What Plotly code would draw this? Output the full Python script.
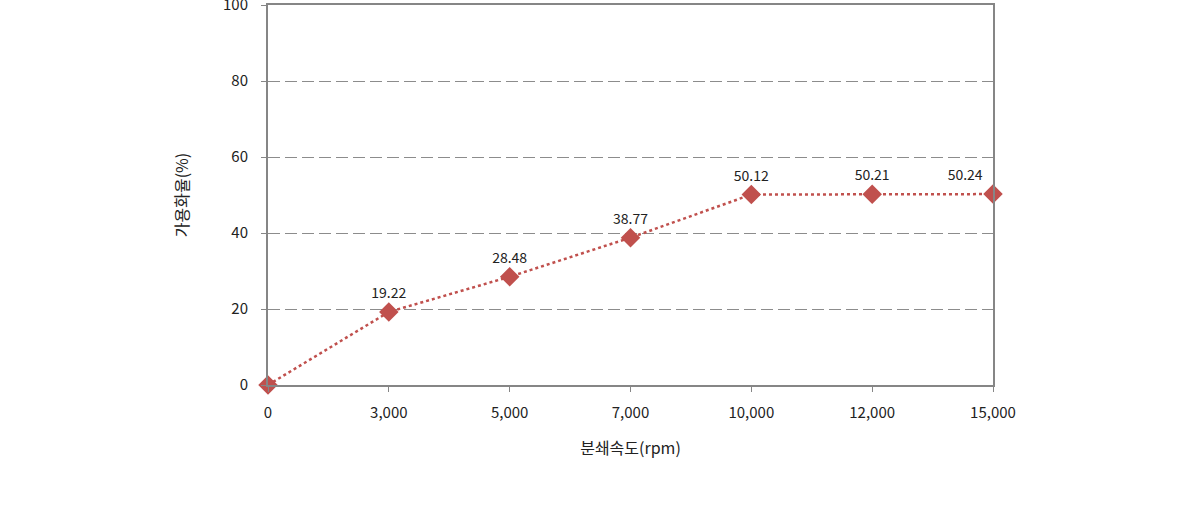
import plotly.graph_objects as go

categories = ["0", "3,000", "5,000", "7,000", "10,000", "12,000", "15,000"]
values = [0, 19.22, 28.48, 38.77, 50.12, 50.21, 50.24]
labels = ["", "19.22", "28.48", "38.77", "50.12", "50.21", "50.24"]
y_ticks = [0, 20, 40, 60, 80, 100]

color = "#C0504D"
font = "Noto Sans CJK KR, Noto Sans, sans-serif"

fig = go.Figure()
fig.add_trace(go.Scatter(
    x=categories, y=values,
    mode="lines+markers+text",
    line=dict(color=color, width=2.5, dash="dot"),
    marker=dict(symbol="diamond", size=15, color=color),
    text=labels,
    textposition=["top center"] * 6 + ["top left"],
    textfont=dict(family=font, size=14, color="#222222"),
    cliponaxis=False,
    showlegend=False,
))

fig.update_layout(
    width=1190, height=508,
    margin=dict(l=268, r=197, t=5, b=123),
    paper_bgcolor="white", plot_bgcolor="white",
    font=dict(family=font, size=15, color="#222222"),
    xaxis=dict(
        type="category", range=[0, 6], automargin=False,
        showline=True, linecolor="#868686", linewidth=2, mirror=True,
        ticks="outside", ticklen=5, tickcolor="#868686",
        ticklabelstandoff=8,
        showgrid=False, zeroline=False,
        tickfont=dict(size=15),
        title=dict(text="분쇄속도(rpm)", font=dict(size=16), standoff=22),
    ),
    yaxis=dict(
        range=[0, 100], tickvals=y_ticks, automargin=False,
        showline=True, linecolor="#868686", linewidth=2, mirror=True,
        ticks="outside", ticklen=5, tickcolor="#868686",
        ticklabelstandoff=10, ticklabeloverflow="allow",
        showgrid=True, gridcolor="#8c8c8c", griddash="12px,5px", gridwidth=1,
        zeroline=False,
        tickfont=dict(size=15),
        title=dict(text="가용화율(%)", font=dict(size=16), standoff=30),
    ),
)

fig.write_html("out.html")
